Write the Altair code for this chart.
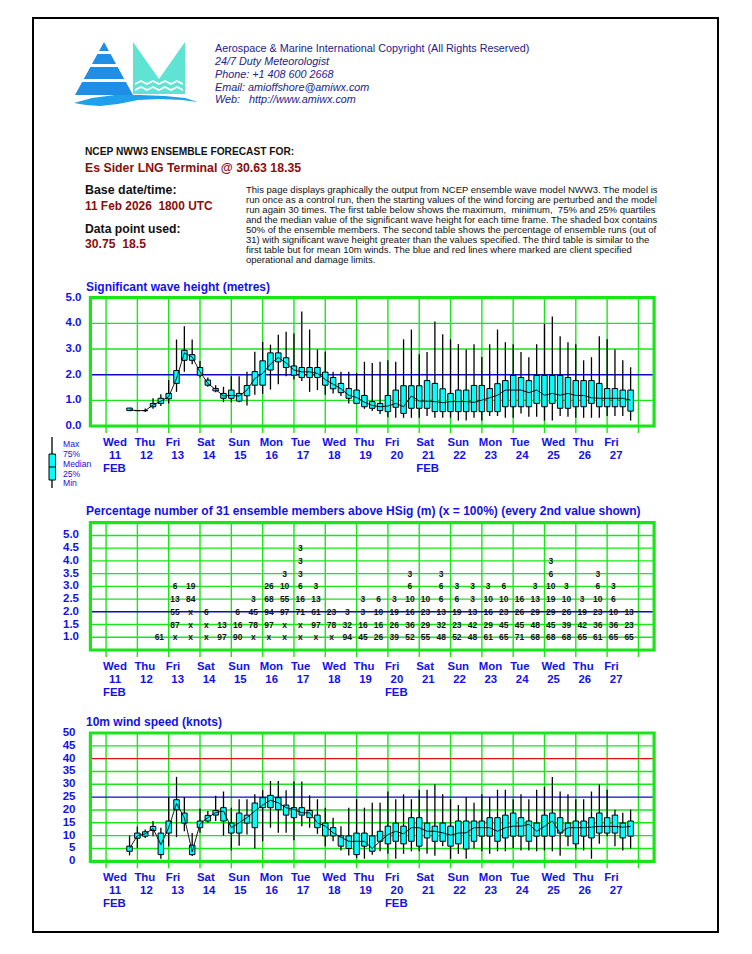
import altair as alt
import pandas as pd

# ------------------------------------------------------------------ data
DAY_NAMES = ["Wed", "Thu", "Fri", "Sat", "Sun", "Mon", "Tue", "Wed", "Thu",
             "Fri", "Sat", "Sun", "Mon", "Tue", "Wed", "Thu", "Fri"]
DAY_NUMS = ["11", "12", "13", "14", "15", "16", "17", "18", "19",
            "20", "21", "22", "23", "24", "25", "26", "27"]
GRID_DAYS = list(range(18))          # day boundaries, days since 11 Feb 00 UTC

# significant wave height (m), 6-hourly from 11 Feb 18 UTC
WAVE_MIN = [0.58, 0.60, 0.55, 0.67, 0.78, 0.88, 1.33, 2.11, 2.41, 1.89, 1.53, 1.32, 0.93,
            0.93, 0.93, 0.80, 1.22, 1.25, 1.42, 1.63, 1.94, 1.81, 1.75, 1.33, 1.40, 1.22,
            1.27, 1.17, 0.88, 0.85, 0.67, 0.58, 0.47, 0.34, 0.32, 0.32, 0.32, 0.32, 0.39,
            0.32, 0.32, 0.32, 0.21, 0.21, 0.32, 0.21, 0.39, 0.39, 0.32, 0.32, 0.49, 0.36,
            0.36, 0.21, 0.21, 0.39, 0.36, 0.32, 0.32, 0.32, 0.32, 0.39, 0.39, 0.39, 0.21]
WAVE_Q1 = [0.60, 0.60, 0.60, 0.75, 0.88, 1.06, 1.66, 2.56, 2.56, 1.98, 1.59, 1.37, 1.08,
           1.08, 0.97, 1.18, 1.59, 1.59, 2.18, 2.50, 2.28, 1.98, 1.89, 1.89, 1.89, 1.59,
           1.45, 1.30, 1.08, 0.88, 0.75, 0.69, 0.60, 0.56, 0.73, 0.49, 0.69, 0.69, 0.69,
           0.56, 0.56, 0.56, 0.56, 0.56, 0.56, 0.56, 0.56, 0.56, 0.75, 0.75, 0.75, 0.75,
           0.88, 0.75, 0.88, 0.69, 0.69, 0.75, 0.75, 0.88, 0.75, 0.75, 0.75, 0.75, 0.58]
WAVE_MED = [0.63, 0.60, 0.60, 0.82, 0.97, 1.14, 1.85, 2.85, 2.69, 2.11, 1.66, 1.42, 1.17,
            1.19, 1.17, 1.40, 1.85, 2.05, 2.41, 2.67, 2.46, 2.18, 2.11, 2.11, 2.05, 1.81,
            1.63, 1.45, 1.20, 1.11, 0.93, 0.80, 0.75, 0.78, 0.88, 0.75, 1.17, 0.97, 0.97,
            0.95, 0.91, 0.95, 0.95, 0.95, 0.92, 1.01, 1.10, 1.20, 1.40, 1.40, 1.40, 1.30,
            1.40, 1.20, 1.27, 1.20, 1.27, 1.19, 1.19, 1.10, 1.08, 1.08, 1.08, 1.08, 1.01]
WAVE_Q3 = [0.70, 0.60, 0.60, 0.88, 1.08, 1.27, 2.16, 2.95, 2.78, 2.28, 1.79, 1.46, 1.27,
           1.40, 1.27, 1.58, 2.12, 2.54, 2.85, 2.85, 2.66, 2.34, 2.28, 2.28, 2.28, 2.10,
           1.89, 1.66, 1.46, 1.40, 1.19, 0.95, 0.88, 1.19, 1.40, 1.57, 1.57, 1.57, 1.77,
           1.66, 1.45, 1.27, 1.40, 1.40, 1.58, 1.58, 1.46, 1.65, 1.77, 1.97, 1.89, 1.77,
           1.97, 1.97, 1.97, 1.97, 1.89, 1.77, 1.77, 1.77, 1.66, 1.46, 1.46, 1.40, 1.40]
WAVE_MAX = [0.70, 0.60, 0.68, 1.08, 1.24, 1.79, 3.37, 3.89, 3.37, 2.53, 1.89, 1.59, 1.53,
            1.94, 1.94, 2.11, 2.89, 3.28, 3.17, 3.56, 3.67, 3.60, 4.46, 3.76, 2.98, 2.89,
            2.11, 2.11, 2.11, 2.07, 2.50, 2.46, 2.50, 2.56, 2.50, 3.38, 3.76, 2.80, 2.88,
            4.07, 3.58, 3.38, 3.19, 2.98, 3.19, 2.69, 3.19, 3.76, 3.26, 3.19, 2.88, 2.68,
            3.19, 3.98, 4.27, 3.50, 3.26, 3.19, 2.56, 2.68, 3.50, 3.38, 2.98, 2.56, 2.29]

# 10 m wind speed (knots), 6-hourly from 11 Feb 18 UTC
WIND_MIN = [2.3, 5.1, 9.1, 9.8, 1.0, 5.9, 9.4, 11.7, 2.1, 11.1, 14.9, 15.7, 9.9, 4.2, 6.1,
            10.4, 5.0, 7.8, 13.1, 11.1, 11.1, 8.2, 13.7, 13.1, 10.7, 5.9, 7.8, 4.2, 2.3,
            1.3, 1.0, 2.6, 3.9, 2.9, 1.0, 2.9, 3.9, 3.9, 2.9, 2.2, 5.9, 1.0, 2.9, 1.0, 5.0,
            3.9, 2.9, 3.9, 3.9, 5.2, 4.2, 4.2, 3.9, 4.2, 3.9, 2.2, 5.9, 4.6, 4.2, 1.0, 6.8,
            9.8, 5.9, 4.2, 5.0]
WIND_Q1 = [3.9, 9.0, 9.8, 12.0, 2.6, 11.0, 20.1, 14.9, 2.6, 13.1, 15.7, 18.0, 15.7, 11.0,
           11.0, 14.9, 13.1, 20.9, 20.9, 20.1, 18.0, 17.0, 18.0, 17.0, 13.1, 9.9, 9.9, 5.9,
           5.0, 2.6, 5.9, 3.9, 7.8, 6.8, 7.8, 6.8, 7.8, 5.9, 9.1, 7.8, 7.8, 5.9, 6.8, 4.8,
           7.8, 9.8, 9.8, 7.8, 9.1, 9.8, 9.8, 7.8, 9.8, 9.8, 9.8, 11.0, 9.8, 6.8, 9.8, 9.1,
           11.0, 11.0, 11.0, 9.1, 9.8]
WIND_MED = [5.0, 10.0, 10.7, 12.8, 6.5, 13.1, 22.5, 17.0, 3.7, 14.6, 17.0, 19.0, 19.6, 13.1,
            15.0, 17.0, 19.6, 21.9, 23.8, 22.8, 20.9, 20.2, 18.9, 18.9, 15.0, 13.7, 11.1,
            9.4, 7.8, 7.8, 7.8, 5.0, 7.8, 10.4, 11.7, 10.7, 13.1, 13.1, 11.7, 11.7, 11.1,
            10.2, 11.0, 11.1, 13.1, 13.1, 13.1, 11.7, 13.1, 13.7, 13.7, 14.4, 11.7, 13.6,
            15.7, 11.0, 13.1, 13.1, 13.1, 13.3, 13.6, 13.6, 13.6, 13.3, 13.6]
WIND_Q3 = [5.9, 11.0, 11.5, 13.6, 11.0, 15.7, 24.0, 18.8, 6.3, 15.7, 17.9, 19.8, 20.9, 14.9,
           18.8, 18.0, 22.7, 24.8, 25.7, 24.8, 21.9, 20.9, 20.9, 19.8, 18.0, 14.9, 13.1,
           9.9, 9.9, 11.0, 11.0, 9.9, 11.7, 13.7, 14.9, 13.7, 17.0, 17.0, 14.9, 13.7, 14.9,
           13.7, 15.7, 15.7, 15.7, 15.7, 17.0, 17.0, 18.0, 18.8, 17.0, 15.7, 14.9, 18.0,
           18.8, 17.0, 14.9, 15.7, 15.7, 17.0, 18.8, 17.0, 18.0, 14.9, 15.7]
WIND_MAX = [10.0, 13.5, 12.4, 15.7, 13.1, 25.1, 32.9, 25.1, 11.0, 20.6, 19.6, 25.5, 27.2,
            20.9, 24.2, 24.2, 26.1, 27.7, 31.3, 31.3, 27.7, 31.1, 31.1, 25.7, 24.2, 20.9,
            17.0, 13.7, 20.9, 24.2, 20.9, 22.8, 22.8, 27.2, 24.2, 26.1, 24.2, 27.9, 27.9,
            30.0, 26.1, 24.2, 21.9, 25.1, 22.8, 26.1, 25.1, 27.9, 27.9, 24.2, 26.1, 24.2,
            27.9, 29.0, 32.9, 27.2, 26.1, 24.2, 24.2, 27.2, 30.0, 27.9, 20.1, 18.9, 20.1]

# percentage of members above each HSig threshold, 12-hourly from 12 Feb 18 UTC
PCT_THRESH = [1.0, 1.5, 2.0, 2.5, 3.0, 3.5, 4.0, 4.5]
PCT_COLS = [
    ["61"], ["x", "87", "55", "13", "6"], ["x", "x", "x", "84", "19"], ["x", "x", "6"],
    ["97", "13"], ["90", "16", "6"], ["x", "78", "45", "3"], ["x", "97", "94", "68", "26"],
    ["x", "x", "97", "55", "10", "3"], ["x", "x", "71", "16", "6", "3", "3", "3"],
    ["x", "97", "61", "13", "3"], ["x", "78", "23"], ["94", "32", "3"],
    ["45", "16", "3", "3"], ["26", "16", "10", "6"], ["39", "26", "19", "3"],
    ["52", "36", "16", "10", "6", "3"], ["55", "29", "23", "10"],
    ["48", "32", "13", "6", "6", "3"], ["52", "23", "19", "6", "3"],
    ["48", "42", "13", "3", "3"], ["61", "29", "16", "10", "3"],
    ["65", "45", "23", "10", "6"], ["71", "45", "26", "16"], ["68", "48", "29", "13", "3"],
    ["68", "45", "29", "19", "10", "6", "3"], ["68", "39", "26", "10", "3"],
    ["65", "42", "19", "3"], ["61", "36", "23", "10", "6", "3"], ["65", "36", "10", "6", "3"],
    ["65", "23", "13"],
]

WAVE_TICKS = [0.0, 1.0, 2.0, 3.0, 4.0, 5.0]
PCT_TICKS = [1.0, 1.5, 2.0, 2.5, 3.0, 3.5, 4.0, 4.5, 5.0]
WIND_TICKS = [0, 5, 10, 15, 20, 25, 30, 35, 40, 45, 50]

# ------------------------------------------------------------------ style
OFF = 8
FONT = "Liberation Sans, Arial, sans-serif"
GREEN = "#19e619"
LBLUE = "#1212e8"
NAVY = "#22228a"
DRED = "#8b0d0d"
CYAN = "#00ffff"
DAYFS = 11.4
ONE = pd.DataFrame({"k": [0]})


def v(p):
    return p - OFF


X_SCALE = alt.Scale(domain=[-0.5, 17.5], range=[v(85.4), v(659.1)], zero=False, nice=False)


def xenc(f):
    return alt.X(f"{f}:Q", scale=X_SCALE, axis=None)


def txt(s, x, y, size, color, weight="normal", style="normal", font=FONT, align="left",
        baseline="middle"):
    return alt.Chart(ONE).mark_text(
        text=s, fontSize=size, color=color, fontWeight=weight, fontStyle=style, font=font,
        align=align, baseline=baseline
    ).encode(x=alt.value(v(x)), y=alt.value(v(y)))


def panel(dom, top_px, bot_px, grid_vals, ticks, fmt, label_x, limits, data_layers,
          feb_day, title, title_base):
    ys = alt.Scale(domain=dom, range=[v(bot_px), v(top_px)], zero=False, nice=False)

    def yenc(f):
        return alt.Y(f"{f}:Q", scale=ys, axis=None)

    ext = (dom[1] - dom[0]) * 7.0 / (bot_px - top_px)
    vg = alt.Chart(pd.DataFrame({"d": GRID_DAYS})).transform_calculate(
        ya=str(dom[1]), yb=str(dom[0] - ext)
    ).mark_rule(color=GREEN, strokeWidth=1.4).encode(x=xenc("d"), y=yenc("ya"), y2=alt.Y2("yb"))
    hg = alt.Chart(pd.DataFrame({"g": grid_vals})).transform_calculate(
        xa="-0.5", xb="17.5"
    ).mark_rule(color=GREEN, strokeWidth=1.4).encode(x=xenc("xa"), x2=alt.X2("xb"), y=yenc("g"))
    layers = [vg, hg]
    for val, col in limits:
        layers.append(
            alt.Chart(pd.DataFrame({"lim": [val]})).transform_calculate(xa="-0.5", xb="17.5")
            .mark_rule(color=col, strokeWidth=1.4)
            .encode(x=xenc("xa"), x2=alt.X2("xb"), y=yenc("lim"))
        )
    frame = alt.Chart(ONE).transform_calculate(
        xa="-0.5", xb="17.5", ya=str(dom[0]), yb=str(dom[1])
    ).mark_rect(fillOpacity=0, stroke=GREEN, strokeWidth=3.2).encode(
        x=xenc("xa"), x2=alt.X2("xb"), y=yenc("ya"), y2=alt.Y2("yb"))
    layers.append(frame)
    layers += [mk(yenc) for mk in data_layers]
    tick_df = pd.DataFrame({"t": ticks, "lab": [fmt.format(t) for t in ticks]})
    layers.append(
        alt.Chart(tick_df).mark_text(font=FONT, fontSize=11.5, fontWeight="bold", color=LBLUE,
                                     align="right", baseline="middle")
        .encode(x=alt.value(v(label_x)), y=yenc("t"), text="lab:N")
    )
    days = pd.DataFrame({"d": list(range(17)), "name": DAY_NAMES, "num": DAY_NUMS})
    layers.append(
        alt.Chart(days).mark_text(font=FONT, fontSize=DAYFS, fontWeight="bold", color=LBLUE,
                                  align="left", baseline="alphabetic", dx=-3.0)
        .encode(x=xenc("d"), y=alt.value(v(bot_px + 19.5)), text="name:N")
    )
    layers.append(
        alt.Chart(days).mark_text(font=FONT, fontSize=DAYFS, fontWeight="bold", color=LBLUE,
                                  align="center", baseline="alphabetic", dx=9.0)
        .encode(x=xenc("d"), y=alt.value(v(bot_px + 32.5)), text="num:N")
    )
    febs = pd.DataFrame({"d": feb_day, "m": ["FEB"] * len(feb_day)})
    layers.append(
        alt.Chart(febs).mark_text(font=FONT, fontSize=DAYFS, fontWeight="bold", color=LBLUE,
                                  align="left", baseline="alphabetic", dx=-3.0)
        .encode(x=xenc("d"), y=alt.value(v(bot_px + 45.5)), text="m:N")
    )
    layers.append(txt(title, 86, title_base, 12, LBLUE, weight="bold", baseline="alphabetic"))
    return alt.layer(*layers)


def box_layers(mn, q1, md, q3, mx):
    t = [0.75 + 0.25 * i for i in range(len(mn))]
    df = pd.DataFrame({"t": t, "lo": mn, "q1": q1, "med": md, "q3": q3, "hi": mx})

    def whisk(yenc):
        return alt.Chart(df).mark_rule(color="black", strokeWidth=1.3).encode(
            x=xenc("t"), y=yenc("lo"), y2=alt.Y2("hi"))

    def box(yenc):
        return alt.Chart(df).mark_bar(size=5.5, fill=CYAN, stroke="black", strokeWidth=1,
                                      opacity=1).encode(
            x=xenc("t"), y=yenc("q1"), y2=alt.Y2("q3"))

    def med(yenc):
        return alt.Chart(df).mark_line(color="black", strokeWidth=0.9).encode(
            x=xenc("t"), y=yenc("med"))

    return [whisk, box, med]


def table_layer():
    rows = []
    for k, col in enumerate(PCT_COLS):
        for j, lab in enumerate(col):
            rows.append({"t": 1.75 + 0.5 * k, "thr": PCT_THRESH[j], "lab": lab})
    df = pd.DataFrame(rows)

    def tbl(yenc):
        return alt.Chart(df).mark_text(font=FONT, fontSize=8.5, fontWeight="bold",
                                       color="#111111", align="center", baseline="middle",
                                       dx=-1.5).encode(
            x=xenc("t"), y=yenc("thr"), text="lab:N")
    return [tbl]


# ------------------------------------------------------------------ panels
p1 = panel([0, 5], 297.7, 426, [1, 3, 4], WAVE_TICKS, "{:.1f}", 81.5,
           [(2.0, "#0a0acc")], box_layers(WAVE_MIN, WAVE_Q1, WAVE_MED, WAVE_Q3, WAVE_MAX),
           [0, 10], "Significant wave height (metres)", 291)
p2 = panel([0.5, 5.5], 522.7, 650, [1.0, 1.5, 2.5, 3.0, 3.5, 4.0, 4.5, 5.0], PCT_TICKS,
           "{:.1f}", 79, [(2.0, "#0a0acc")], table_layer(), [0, 9],
           "Percentage number of 31 ensemble members above HSig (m) (x = 100%) (every 2nd value shown)",
           515)
p3 = panel([0, 50], 733, 861.3, [5, 10, 15, 20, 30, 35, 45], WIND_TICKS, "{:d}", 75.5,
           [(25, "#0a0acc"), (40, "#e01010")],
           box_layers(WIND_MIN, WIND_Q1, WIND_MED, WIND_Q3, WIND_MAX), [0, 9],
           "10m wind speed (knots)", 726)

# ------------------------------------------------------------------ header
border = alt.Chart(ONE).mark_rect(fillOpacity=0, stroke="black", strokeWidth=2).encode(
    x=alt.value(v(33)), x2=alt.value(v(718)), y=alt.value(v(18)), y2=alt.value(v(932)))


def lp(pts):
    cx, cy, h = 136.0, 73.0, 62.0
    return "M" + " L".join(f"{(x - cx) / h:.3f},{(y - cy) / h:.3f}" for x, y in pts) + " Z"


def tri_band(y0, y1):
    ax, ay, by, half = 104.0, 42.0, 95.0, 29.0
    w0 = (y0 - ay) / (by - ay) * half
    w1 = (y1 - ay) / (by - ay) * half
    return [(ax - w0, y0), (ax + w0, y0), (ax + w1, y1), (ax - w1, y1)]


TRI = " ".join(lp(tri_band(a, b)) for a, b in [(42, 51), (54, 64), (67, 79), (82, 95)])
MSHAPE = lp([(133, 42), (159, 79), (185, 42), (185, 94), (133, 94)])
WAVES = lp([(135, 83), (141, 80), (147, 83), (153, 80), (159, 83), (165, 80), (171, 83),
            (177, 80), (183, 83), (183, 85), (177, 82), (171, 85), (165, 82), (159, 85),
            (153, 82), (147, 85), (141, 82), (135, 85)]) + " " + lp(
    [(135, 89), (141, 86), (147, 89), (153, 86), (159, 89), (165, 86), (171, 89),
     (177, 86), (183, 89), (183, 91), (177, 88), (171, 91), (165, 88), (159, 91),
     (153, 88), (147, 91), (141, 88), (135, 91)])
SWOOSH = lp([(74, 103), (92, 98), (115, 95), (140, 95), (165, 96), (185, 98), (198, 102),
             (182, 100), (160, 99), (138, 100), (118, 104), (100, 106), (86, 105)])


def logo_part(path, color):
    return alt.Chart(ONE).mark_point(shape=path, size=124 * 124, filled=True, fill=color,
                                     strokeWidth=0, opacity=1).encode(
        x=alt.value(v(136)), y=alt.value(v(73)))


logo = [logo_part(TRI, "#1f8ee6"), logo_part(MSHAPE, "#5fe3d2"),
        logo_part(WAVES, "#ffffff"), logo_part(SWOOSH, "#1ea0ea")]

NB = "\u00a0"
header = [
    txt("Aerospace & Marine International Copyright (All Rights Reserved)", 215, 49, 10.8, NAVY),
    txt("24/7 Duty Meteorologist", 215, 62, 10.8, NAVY, style="italic"),
    txt("Phone: +1 408 600 2668", 215, 75, 10.8, NAVY, style="italic"),
    txt("Email: amioffshore@amiwx.com", 215, 88, 10.8, NAVY, style="italic"),
    txt("Web:" + NB * 3 + "http://www.amiwx.com", 215, 100, 10.8, NAVY, style="italic"),
    txt("NCEP NWW3 ENSEMBLE FORECAST FOR:", 85, 152, 10.2, "#111111", weight="bold"),
    txt("Es Sider LNG Terminal @ 30.63 18.35", 85, 168, 12.3, DRED, weight="bold"),
    txt("Base date/time:", 85, 190, 12.4, "#111111", weight="bold"),
    txt("11 Feb 2026" + NB * 2 + "1800 UTC", 85, 206, 11.9, DRED, weight="bold"),
    txt("Data point used:", 85, 229, 12.2, "#111111", weight="bold"),
    txt("30.75" + NB * 2 + "18.5", 85, 244, 12.2, DRED, weight="bold"),
]
PARA = [
    "This page displays graphically the output from NCEP ensemble wave model NWW3. The model is",
    "run once as a control run, then the starting values of the wind forcing are perturbed and the model",
    "run again 30 times. The first table below shows the maximum," + NB * 2 + "minimum," + NB * 2
    + "75% and 25% quartiles",
    "and the median value of the significant wave height for each time frame. The shaded box contains",
    "50% of the ensemble members. The second table shows the percentage of ensemble runs (out of",
    "31) with significant wave height greater than the values specified. The third table is similar to the",
    "first table but for mean 10m winds. The blue and red lines where marked are client specified",
    "operational and damage limits.",
]
for i, line in enumerate(PARA):
    header.append(txt(line, 246, 190 + 10 * i, 9.5, "#111111"))

# legend glyph
legend = [
    alt.Chart(ONE).mark_rule(color="black", strokeWidth=1.3).encode(
        x=alt.value(v(52)), y=alt.value(v(437)), y2=alt.value(v(488))),
    alt.Chart(ONE).mark_rect(fill=CYAN, stroke="black", strokeWidth=1).encode(
        x=alt.value(v(49)), x2=alt.value(v(55.5)), y=alt.value(v(454)), y2=alt.value(v(480))),
    alt.Chart(ONE).mark_rule(color="black", strokeWidth=1).encode(
        x=alt.value(v(49)), x2=alt.value(v(55.5)), y=alt.value(v(467))),
]
for lab, yy in [("Max", 444), ("75%", 453.5), ("Median", 463.5), ("25%", 473.5), ("Min", 483)]:
    legend.append(txt(lab, 63, yy, 8.6, LBLUE))

chart = alt.layer(
    border, *logo, *header, *legend, p1, p2, p3
).resolve_scale(y="independent").properties(
    width=736, height=938, padding=0, autosize=alt.AutoSizeParams(type="none")
).configure_view(stroke=None)

chart.save("out.html", embed_options={"renderer": "svg", "actions": False})
